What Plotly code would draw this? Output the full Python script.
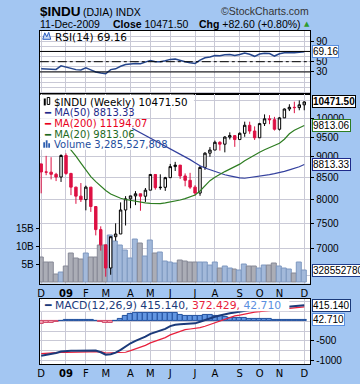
import math
import pandas as pd
import plotly.graph_objects as go

# ---------------- data (weekly, $INDU, Dec 2008 - Dec 11 2009) ----------------
week_start = pd.date_range("2008-12-01", periods=54, freq="W-MON")

open_px = [8829, 8635, 8630, 8579, 8515, 9035, 8599, 8281, 8078, 8001,
           8281, 7850, 7366, 7063, 6627, 7224, 7278, 7776, 8018, 8083,
           8131, 8076, 8212, 8575, 8269, 8277, 8500, 8763, 8799, 8540,
           8438, 8281, 8147, 8744, 9093, 9172, 9370, 9321, 9506, 9544,
           9441, 9605, 9820, 9665, 9488, 9865, 9996, 9972, 9713, 10023,
           10270, 10318, 10310, 10389]
high_px = [8830, 9026, 8993, 8614, 9065, 9089, 8614, 8290, 8375, 8315,
           8282, 7850, 7433, 7063, 7224, 7495, 7940, 8078, 8084, 8190,
           8131, 8261, 8588, 8575, 8578, 8519, 8828, 8878, 8799, 8600,
           8614, 8324, 8785, 9118, 9247, 9414, 9398, 9529, 9630, 9544,
           9629, 9918, 9917, 9790, 9885, 10119, 10097, 10050, 10047, 10285,
           10406, 10480, 10516, 10491]
low_px = [8141, 8557, 8459, 8420, 8400, 8567, 8101, 7909, 7949, 7768,
          7735, 7250, 6952, 6470, 6505, 7143, 7278, 7450, 7813, 7880,
          7759, 7950, 8212, 8223, 8221, 8196, 8500, 8658, 8470, 8300,
          8240, 8087, 8085, 8684, 9004, 9172, 9157, 9114, 9443, 9253,
          9441, 9513, 9590, 9430, 9487, 9800, 9850, 9679, 9679, 10023,
          10212, 10153, 10235, 10234]
close_px = [8635, 8630, 8579, 8515, 9035, 8599, 8281, 8078, 8001, 8281,
            7850, 7366, 7063, 6627, 7224, 7278, 7776, 8018, 8083, 8131,
            8076, 8212, 8575, 8269, 8277, 8500, 8763, 8799, 8540, 8438,
            8281, 8147, 8744, 9093, 9172, 9370, 9321, 9506, 9544, 9441,
            9605, 9820, 9665, 9488, 9865, 9996, 9972, 9713, 10023, 10270,
            10318, 10310, 10389, 10471.50]

ma50 = [None] * 17 + [9835, 9764, 9695, 9623, 9555, 9485, 9418, 9349, 9282, 9213,
                      9148, 9081, 9006, 8933, 8857, 8782, 8729, 8684, 8639, 8594,
                      8568, 8542, 8516, 8493, 8486, 8500, 8514, 8528, 8547, 8570,
                      8594, 8617, 8648, 8684, 8719, 8758, 8813.33]
ma20 = [None] * 5 + [9330, 9180, 9018, 8847, 8679, 8525, 8407, 8295, 8204, 8126,
                     8071, 8031, 8004, 7983, 7961, 7943, 7928, 7917, 7910, 7914,
                     7928, 7945, 7967, 7993, 8022, 8060, 8104, 8193, 8306, 8430,
                     8511, 8582, 8643, 8702, 8762, 8822, 8907, 8981, 9043, 9118,
                     9180, 9231, 9282, 9346, 9449, 9592, 9684, 9751, 9813.06]
ma200_last = 11194.07

volume_bn = [6.9, 5.75, 5.75, 2.2, 2.7, 4.4, 8.1, 6.7, 6.4, 8.1,
             6.9, 6.9, 10.3, 10.5, 13.2, 11.5, 10.4, 8.9, 6.7, 11.9,
             10.8, 7.2, 11.7, 8.1, 8.3, 6.0, 5.6, 5.4, 6.2, 6.0,
             5.5, 5.75, 5.75, 5.5, 4.8, 5.75, 3.9, 4.4, 3.9, 3.7,
             3.4, 5.0, 4.4, 4.4, 3.9, 4.8, 4.8, 5.3, 4.4, 3.9,
             3.7, 2.5, 5.7, 3.285527808]

rsi14 = [36, 36, 36, 35, 42, 39, 36, 34.5, 34, 38,
         34, 30, 28, 26.5, 34.5, 36, 41, 44.5, 45.5, 46.5,
         46, 48.5, 52.5, 50, 50, 52, 54.5, 55, 52, 50,
         48, 46.5, 53, 57.5, 59, 62, 61.5, 63.5, 64, 62,
         64, 67, 64.5, 60.5, 65, 66.5, 66, 61, 65.5, 67.5,
         68, 67.5, 68.5, 69.16]

macd_line = [-880, -860, -840, -810, -770, -755, -750, -750, -745, -740,
             -735, -745, -790, -855, -840, -800, -730, -640, -560, -500,
             -450, -390, -320, -275, -240, -190, -120, -85, -70, -60,
             -55, -50, -10, 40, 80, 120, 150, 185, 210, 230,
             250, 275, 290, 295, 310, 330, 340, 345, 355, 370,
             385, 395, 405, 415.140]
signal_line = [-825, -815, -810, -800, -795, -795, -790, -788, -783, -780,
               -770, -765, -775, -810, -805, -815, -805, -790, -750, -710,
               -670, -615, -550, -505, -465, -415, -345, -300, -245, -210,
               -195, -185, -160, -125, -80, -30, 20, 70, 110, 140,
               160, 190, 220, 240, 250, 268, 282, 300, 307, 320,
               335, 350, 361, 372.429]
macd_hist = [-55, -45, -30, -10, 25, 40, 40, 38, 38, 40,
             35, 20, -15, -45, -35, 15, 75, 150, 190, 210,
             220, 225, 230, 230, 225, 225, 225, 215, 175, 150,
             140, 135, 150, 165, 160, 150, 130, 115, 100, 90,
             90, 85, 70, 55, 60, 62, 58, 45, 48, 50,
             50, 45, 44, 42.710]

month_ticks = ["2008-12-01", "2009-01-05", "2009-02-02", "2009-03-02", "2009-04-06",
               "2009-05-04", "2009-06-01", "2009-07-06", "2009-08-03", "2009-09-07",
               "2009-10-05", "2009-11-02", "2009-12-07"]
month_labels = ["D", "<b>09</b>", "F", "M", "A", "M", "J", "J", "A", "S", "O", "N", "D"]

price_ticks = [7000, 7500, 8000, 8500, 9000, 9500, 10000]
price_grid_extra = [6500, 10500]
rsi_ticks = [30, 50, 90]
macd_ticks = [-1000, -500]
macd_grid_extra = [-750, -250, 0, 250, 500]
vol_ticks = [5, 10, 15]
vol_labels = ["5B", "10B", "15B"]

# ---------------- styling ----------------
W, H = 360, 384
BG = "#A3C6F2"
GRID = "#C9C9D6"
ARIAL = "Liberation Sans, Arial, sans-serif"
VERD = "DejaVu Sans, Verdana, sans-serif"
RED = "#DD1144"
NAVY_MA = "#33409E"
GREEN_MA = "#2E7D22"
MACD_NAVY = "#1B3A7A"
SIG_RED = "#E8203C"


def px(x):
    return x / W


def py(y):
    return 1 - y / H


XD = [px(38), px(310)]
rsi_dom = [py(94), py(31)]
main_dom = [py(285), py(94)]
macd_dom = [py(366), py(300.5)]

x_start = week_start[0] - pd.Timedelta(days=0.281 * 7)
x_end = week_start[-1] + pd.Timedelta(days=1.213 * 7)
WEEK_MS = 7 * 86400000

fig = go.Figure()

# RSI
fig.add_trace(go.Scatter(x=week_start, y=rsi14, mode="lines", xaxis="x", yaxis="y",
                         line=dict(color="#24458C", width=1.5), showlegend=False))

# Volume (behind price)
vol_fill = ["#A3B9DA" if c >= o else "#ABADB6" for o, c in zip(open_px, close_px)]
vol_line = ["#7E98C0" if c >= o else "#868996" for o, c in zip(open_px, close_px)]
fig.add_trace(go.Bar(x=week_start, y=volume_bn, xaxis="x2", yaxis="y2",
                     width=WEEK_MS, marker=dict(color=vol_fill, line=dict(color=vol_line, width=1)),
                     showlegend=False))

# Price candles and moving averages
fig.add_trace(go.Candlestick(x=week_start, open=open_px, high=high_px, low=low_px, close=close_px,
                             xaxis="x2", yaxis="y3", whiskerwidth=0,
                             increasing=dict(line=dict(color="black", width=1), fillcolor="white"),
                             decreasing=dict(line=dict(color=RED, width=1), fillcolor=RED),
                             showlegend=False))
fig.add_trace(go.Scatter(x=week_start, y=ma50, mode="lines", xaxis="x2", yaxis="y3",
                         line=dict(color=NAVY_MA, width=1.2), showlegend=False))
fig.add_trace(go.Scatter(x=week_start, y=ma20, mode="lines", xaxis="x2", yaxis="y3",
                         line=dict(color=GREEN_MA, width=1.2), showlegend=False))

# MACD
hist_fill = ["#6296E2" if v >= 0 else "#F2A6B4" for v in macd_hist]
hist_line = ["#22509E" if v >= 0 else "#D04868" for v in macd_hist]
fig.add_trace(go.Bar(x=week_start, y=macd_hist, xaxis="x3", yaxis="y4", width=WEEK_MS,
                     marker=dict(color=hist_fill, line=dict(color=hist_line, width=1)),
                     showlegend=False))
fig.add_trace(go.Scatter(x=week_start, y=signal_line, mode="lines", xaxis="x3", yaxis="y4",
                         line=dict(color=SIG_RED, width=1.2), showlegend=False))
fig.add_trace(go.Scatter(x=week_start, y=macd_line, mode="lines", xaxis="x3", yaxis="y4",
                         line=dict(color=MACD_NAVY, width=2), showlegend=False))

xcommon = dict(type="date", range=[x_start, x_end], domain=XD,
               tickmode="array", tickvals=month_ticks, ticktext=month_labels,
               showgrid=True, gridcolor=GRID, gridwidth=1, zeroline=False,
               showline=True, mirror=True, linecolor="black", linewidth=1,
               ticks="", tickfont=dict(family=VERD, size=10, color="black"))
tfont = dict(family=ARIAL, size=10, color="black")

fig.update_layout(
    width=W, height=H, margin=dict(l=0, r=0, t=0, b=0),
    paper_bgcolor=BG, plot_bgcolor="white", showlegend=False, bargap=0,
    xaxis=dict(xcommon, anchor="y", showticklabels=False),
    xaxis2=dict(xcommon, anchor="y2", showticklabels=True, rangeslider=dict(visible=False)),
    xaxis3=dict(xcommon, anchor="y4", showticklabels=True),
    yaxis=dict(domain=rsi_dom, anchor="x", side="right", range=[-12.1, 110.2],
               tickmode="array", tickvals=rsi_ticks, ticks="outside", ticklen=3,
               tickcolor="black", tickfont=tfont, showgrid=True, gridcolor=GRID,
               minor=dict(tickmode="linear", dtick=10, tick0=0, showgrid=True, gridcolor=GRID, ticks=""),
               zeroline=False, showline=True, mirror=True, linecolor="black"),
    yaxis2=dict(domain=main_dom, anchor="x2", side="left", range=[-0.25, 52.8],
                tickmode="array", tickvals=vol_ticks, ticktext=vol_labels,
                ticks="outside", ticklen=3, tickcolor="black", tickfont=tfont,
                showgrid=False, zeroline=False, showline=True, mirror=True, linecolor="black"),
    yaxis3=dict(overlaying="y2", anchor="x2", side="right", type="log",
                range=[3.80274, 4.03012], tickmode="array", tickvals=price_ticks,
                ticktext=[str(v) for v in price_ticks], ticks="outside", ticklen=3,
                tickcolor="black", tickfont=tfont, showgrid=True, gridcolor=GRID,
                minor=dict(tickmode="array", tickvals=price_grid_extra, showgrid=True,
                           gridcolor=GRID, ticks=""),
                zeroline=False, showline=False),
    yaxis4=dict(domain=macd_dom, anchor="x3", side="right", range=[-1094, 576],
                tickmode="array", tickvals=macd_ticks,
                ticktext=[str(v) for v in macd_ticks], ticks="outside", ticklen=3,
                tickcolor="black", tickfont=tfont, showgrid=True, gridcolor=GRID,
                minor=dict(tickmode="array", tickvals=macd_grid_extra, showgrid=True,
                           gridcolor=GRID, ticks=""),
                zeroline=False, showline=True, mirror=True, linecolor="black"),
)

shapes = []
# RSI reference lines
for lvl, dash in [(70, "solid"), (30, "solid"), (50, "dashdot")]:
    shapes.append(dict(type="line", xref="paper", x0=XD[0], x1=XD[1], yref="y", y0=lvl, y1=lvl,
                       line=dict(color="black", width=1, dash=dash)))


def rect(x0, y0, x1, y1, fill="white", line=None):
    return dict(type="rect", xref="paper", yref="paper", x0=px(x0), x1=px(x1), y0=py(y1), y1=py(y0),
                fillcolor=fill, line=dict(width=0) if line is None else line, layer="above")


# white legend row backgrounds (cover lines like the original)
for (x1, y0, y1) in [(193, 95, 108.5), (111, 108.5, 119), (131, 119, 129.7),
                     (129, 129.7, 140.3), (147, 140.3, 150.5)]:
    shapes.append(rect(38.6, y0, x1, y1))
shapes.append(rect(38.6, 301, 289, 313))

# small legend icons
shapes.append(dict(type="path", xref="paper", yref="paper",
                   path="M {} {} L {} {} L {} {} L {} {} L {} {} Z".format(
                       px(41), py(39.5), px(43), py(33), px(45), py(37), px(47), py(32.5), px(49), py(39.5)),
                   fillcolor="#C8DAF5", line=dict(color="#2A5CC0", width=1)))
shapes.append(rect(42, 99, 44, 106, fill="black"))
shapes.append(rect(45.5, 98, 48, 105, fill="white", line=dict(color="black", width=1)))
for bx, top in [(41.5, 143), (44, 141), (46.5, 144)]:
    shapes.append(rect(bx, top, bx + 1.8, 148.5, fill="#2E5FB0"))

fig.update_layout(shapes=shapes)

box_specs = [
    ("y3", math.log10(close_px[-1]), "black", "<b>10471.50</b>"),
    ("y3", math.log10(ma20[-1]), GREEN_MA, "9813.06"),
    ("y3", math.log10(ma50[-1]), "#1E2A8A", "8813.33"),
    ("y3", math.log10(ma200_last), "#E00020", "11194.07"),
    ("y2", volume_bn[-1], "#1E3C8A", "3285527808"),
    ("y", rsi14[-1], "#5A8FE0", "69.16"),
    ("y4", macd_line[-1], "#1B3A7A", "415.140"),
    ("y4", macd_hist[-1], "#5A8FE0", "42.710"),
]

ann = []


def text(x, y, s, size=10.5, fam=VERD, color="black", anchor="left"):
    ann.append(dict(xref="paper", yref="paper", x=px(x), y=py(y), xanchor=anchor, yanchor="middle",
                    text=s, showarrow=False, font=dict(family=fam, size=size, color=color)))


# header
text(36, 12, "<b>$INDU</b>", size=13.5, fam=ARIAL)
text(79, 12.5, "(DJIA) INDX", size=10.5, fam=ARIAL)
text(311, 11.5, "©StockCharts.com", size=10.5, fam=ARIAL, color="#333333", anchor="right")
text(36, 24.5, "11-Dec-2009", size=10.5, fam=ARIAL)
text(110, 24.5, "<b>Close</b> 10471.50", size=10.5, fam=ARIAL)
text(196, 24.5, "<b>Chg</b> +82.60 (+0.80%)", size=10.5, fam=ARIAL)
text(301.5, 24, "▲", size=7, fam=VERD, color="#2E9B2E")

# panel legends
text(51, 37, "RSI(14) 69.16", size=10.5)
text(50, 102.5, "$INDU (Weekly) 10471.50", size=10.3)
text(40, 113.5, "━ MA(50) 8813.33", size=10, color="#1E2A8A")
text(40, 124.3, "━ MA(200) 11194.07", size=10, color="#E8001C")
text(40, 135, "━ MA(20) 9813.06", size=10, color="#1E6A1E")
text(50.5, 145.5, "Volume 3,285,527,808", size=10, color="#1F4E9E")
text(40, 307, "<span style='color:#1B3A7A'>━ MACD(12,26,9) 415.140,</span> "
              "<span style='color:#E8203C'>372.429,</span> "
              "<span style='color:#5A8FE0'>42.710</span>", size=10.8)

# value boxes on the right axis
for yref, yv, col, s in box_specs:
    ann.append(dict(xref="paper", x=px(311.5), xanchor="left", yref=yref, y=yv, yanchor="middle",
                    text=s, showarrow=False, bgcolor="white", bordercolor=col, borderwidth=1,
                    borderpad=0, font=dict(family=ARIAL, size=10, color="black")))

fig.update_layout(annotations=ann)
fig.write_html("out.html", config={"displayModeBar": False},
               post_script="document.body.style.margin='0';document.body.style.overflow='hidden';")
